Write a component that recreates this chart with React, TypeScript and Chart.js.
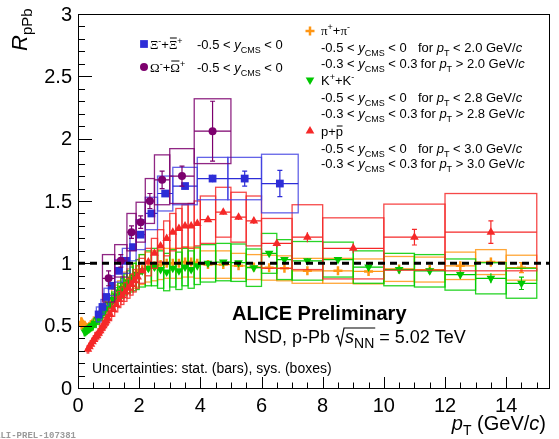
import React, { useEffect, useRef } from 'react';
import { Chart, registerables } from 'chart.js';
Chart.register(...registerables);

const SANS = '"Liberation Sans", Arial, Helvetica, sans-serif';
const SERIF = '"Liberation Serif", "DejaVu Serif", serif';
const MONO = '"Liberation Mono", "DejaVu Sans Mono", monospace';

// ---------------- axis ranges ----------------
const X_MIN = 0;
const X_MAX = 15.4;
const Y_MIN = 0;
const Y_MAX = 3;
const X_TICK_STEP = 2;
const Y_TICK_STEP = 0.5;
const REF_LINE = 1;

// ---------------- pi+ + pi- ----------------
const PI_EDGES = [0.10, 0.12, 0.14, 0.16, 0.18, 0.20, 0.25, 0.30, 0.35, 0.40, 0.45, 0.50, 0.60, 0.70, 0.80, 0.90, 1.00, 1.10, 1.20, 1.30, 1.40, 1.50, 1.60, 1.70, 1.80, 1.90, 2.00, 2.20, 2.40, 2.60, 2.80, 3.00, 3.20, 3.40, 3.60, 3.80, 4.00, 4.50, 5.00, 5.50, 6.00, 6.50, 7.00, 8.00, 9.00, 10.0, 11.0, 12.0, 13.0, 14.0, 15.0];
const PI_VAL = [0.53, 0.52, 0.51, 0.50, 0.50, 0.48, 0.48, 0.48, 0.49, 0.50, 0.51, 0.53, 0.56, 0.59, 0.62, 0.65, 0.68, 0.72, 0.75, 0.78, 0.81, 0.84, 0.86, 0.88, 0.90, 0.92, 0.95, 0.97, 0.98, 0.99, 1.00, 1.00, 1.00, 1.01, 1.01, 1.00, 0.99, 0.99, 0.98, 0.97, 0.965, 0.96, 0.94, 0.94, 0.935, 0.955, 0.95, 0.98, 1.01, 0.965];
const PI_STAT = [0.005, 0.005, 0.005, 0.005, 0.005, 0.004, 0.004, 0.004, 0.004, 0.004, 0.004, 0.004, 0.004, 0.004, 0.004, 0.004, 0.004, 0.004, 0.004, 0.004, 0.004, 0.004, 0.004, 0.004, 0.004, 0.004, 0.006, 0.006, 0.006, 0.006, 0.006, 0.006, 0.006, 0.006, 0.006, 0.006, 0.008, 0.009, 0.010, 0.011, 0.012, 0.013, 0.015, 0.015, 0.020, 0.020, 0.025, 0.030, 0.035, 0.040];
const PI_SYS = [0.035, 0.035, 0.035, 0.035, 0.035, 0.035, 0.035, 0.035, 0.035, 0.040, 0.040, 0.040, 0.045, 0.050, 0.055, 0.060, 0.065, 0.070, 0.075, 0.080, 0.085, 0.090, 0.095, 0.100, 0.100, 0.110, 0.12, 0.12, 0.12, 0.12, 0.12, 0.12, 0.12, 0.12, 0.12, 0.12, 0.11, 0.11, 0.10, 0.10, 0.10, 0.10, 0.10, 0.10, 0.10, 0.10, 0.10, 0.11, 0.10, 0.10];

// ---------------- K+ + K- ----------------
const KA_EDGES = [0.20, 0.25, 0.30, 0.35, 0.40, 0.45, 0.50, 0.60, 0.70, 0.80, 0.90, 1.00, 1.10, 1.20, 1.30, 1.40, 1.50, 1.60, 1.70, 1.80, 1.90, 2.00, 2.20, 2.40, 2.60, 2.80, 3.00, 3.20, 3.40, 3.60, 3.80, 4.00, 4.50, 5.00, 5.50, 6.00, 6.50, 7.00, 8.00, 9.00, 10.0, 11.0, 12.0, 13.0, 14.0, 15.0];
const KA_VAL = [0.45, 0.46, 0.47, 0.48, 0.49, 0.50, 0.52, 0.55, 0.58, 0.61, 0.64, 0.67, 0.71, 0.74, 0.77, 0.80, 0.83, 0.85, 0.87, 0.89, 0.91, 0.94, 0.96, 0.97, 0.95, 0.93, 0.96, 0.94, 0.97, 0.95, 0.98, 1.00, 1.01, 1.005, 0.965, 1.08, 1.03, 1.02, 1.03, 0.97, 0.95, 0.94, 0.91, 0.88, 0.84];
const KA_STAT = [0.004, 0.004, 0.004, 0.004, 0.004, 0.004, 0.005, 0.005, 0.005, 0.005, 0.005, 0.005, 0.005, 0.005, 0.005, 0.005, 0.005, 0.005, 0.005, 0.005, 0.005, 0.008, 0.008, 0.008, 0.008, 0.008, 0.008, 0.008, 0.008, 0.008, 0.008, 0.010, 0.012, 0.013, 0.014, 0.015, 0.017, 0.020, 0.020, 0.025, 0.030, 0.030, 0.035, 0.040, 0.050];
const KA_SYS = [0.03, 0.03, 0.03, 0.03, 0.03, 0.035, 0.035, 0.04, 0.04, 0.045, 0.05, 0.055, 0.06, 0.065, 0.07, 0.08, 0.085, 0.09, 0.10, 0.11, 0.12, 0.13, 0.14, 0.15, 0.15, 0.15, 0.15, 0.15, 0.15, 0.15, 0.15, 0.15, 0.15, 0.15, 0.15, 0.16, 0.16, 0.155, 0.14, 0.13, 0.13, 0.13, 0.125, 0.125, 0.12];

// ---------------- p + pbar ----------------
const PR_EDGES = [0.30, 0.35, 0.40, 0.45, 0.50, 0.55, 0.60, 0.65, 0.70, 0.75, 0.80, 0.85, 0.90, 0.95, 1.00, 1.10, 1.20, 1.30, 1.40, 1.50, 1.60, 1.70, 1.80, 1.90, 2.00, 2.20, 2.40, 2.60, 2.80, 3.00, 3.20, 3.40, 3.60, 3.80, 4.00, 4.50, 5.00, 5.50, 6.00, 7.00, 8.00, 10.0, 12.0, 15.0];
const PR_VAL = [0.31, 0.33, 0.35, 0.37, 0.39, 0.41, 0.42, 0.44, 0.46, 0.48, 0.50, 0.52, 0.54, 0.56, 0.59, 0.63, 0.67, 0.71, 0.74, 0.77, 0.80, 0.83, 0.86, 0.89, 0.94, 1.01, 1.08, 1.14, 1.20, 1.25, 1.28, 1.30, 1.30, 1.32, 1.35, 1.41, 1.37, 1.34, 1.16, 1.21, 1.12, 1.21, 1.25];
const PR_STAT = [0.008, 0.008, 0.008, 0.008, 0.008, 0.008, 0.008, 0.008, 0.008, 0.008, 0.008, 0.008, 0.008, 0.008, 0.008, 0.008, 0.008, 0.008, 0.008, 0.008, 0.008, 0.008, 0.008, 0.008, 0.010, 0.010, 0.012, 0.012, 0.013, 0.014, 0.015, 0.016, 0.017, 0.018, 0.018, 0.020, 0.022, 0.025, 0.030, 0.040, 0.040, 0.063, 0.090];
const PR_SYS = [0.03, 0.03, 0.03, 0.03, 0.03, 0.035, 0.035, 0.035, 0.04, 0.04, 0.04, 0.045, 0.045, 0.05, 0.05, 0.055, 0.06, 0.065, 0.07, 0.075, 0.08, 0.085, 0.09, 0.09, 0.10, 0.11, 0.12, 0.13, 0.14, 0.15, 0.16, 0.17, 0.18, 0.18, 0.19, 0.20, 0.20, 0.20, 0.20, 0.26, 0.245, 0.265, 0.31];

// ---------------- Xi- + Xi+bar ----------------
const XI_EDGES = [0.6, 0.75, 0.85, 1.0, 1.2, 1.45, 1.7, 1.9, 2.2, 2.6, 3.1, 3.9, 4.9, 6.0, 7.2];
const XI_VAL = [0.59, 0.65, 0.73, 0.82, 0.94, 1.02, 1.13, 1.23, 1.40, 1.56, 1.62, 1.68, 1.68, 1.64];
const XI_STAT = [0.015, 0.015, 0.015, 0.015, 0.015, 0.015, 0.015, 0.02, 0.02, 0.02, 0.025, 0.03, 0.06, 0.105];
const XI_SYS = [0.06, 0.06, 0.07, 0.08, 0.09, 0.10, 0.11, 0.12, 0.13, 0.14, 0.15, 0.17, 0.17, 0.235];

// ---------------- Omega- + Omega+bar ----------------
const OM_EDGES = [0.8, 1.2, 1.6, 1.9, 2.2, 2.5, 3.0, 3.8, 5.0];
const OM_VAL = [0.88, 1.02, 1.25, 1.33, 1.50, 1.67, 1.70, 2.06];
const OM_STAT = [0.06, 0.05, 0.05, 0.05, 0.06, 0.07, 0.08, 0.24];
const OM_SYS = [0.19, 0.13, 0.15, 0.16, 0.18, 0.20, 0.22, 0.26];

type Species = {
  label: string;
  edges: number[];
  val: number[];
  stat: number[];
  sys: number[];
  color: string;
  box: string;
  style: string;
  radius: number;
  rot: number;
  bw: number;
  order: number;
};

const SPECIES: Species[] = [
  { label: 'π⁺+π⁻', edges: PI_EDGES, val: PI_VAL, stat: PI_STAT, sys: PI_SYS, color: 'rgb(255,150,20)', box: 'rgba(255,150,20,0.85)', style: 'cross', radius: 4.5, rot: 0, bw: 2.5, order: 5 },
  { label: 'K⁺+K⁻', edges: KA_EDGES, val: KA_VAL, stat: KA_STAT, sys: KA_SYS, color: 'rgb(0,200,0)', box: 'rgba(0,205,0,0.85)', style: 'triangle', radius: 5, rot: 180, bw: 0, order: 4 },
  { label: 'p+p̄', edges: PR_EDGES, val: PR_VAL, stat: PR_STAT, sys: PR_SYS, color: 'rgb(245,40,40)', box: 'rgba(245,40,40,0.85)', style: 'triangle', radius: 5, rot: 0, bw: 0, order: 3 },
  { label: 'Ξ⁻+Ξ̄⁺', edges: XI_EDGES, val: XI_VAL, stat: XI_STAT, sys: XI_SYS, color: 'rgb(45,45,215)', box: 'rgba(60,60,225,0.8)', style: 'rect', radius: 5.5, rot: 0, bw: 0, order: 2 },
  { label: 'Ω⁻+Ω̄⁺', edges: OM_EDGES, val: OM_VAL, stat: OM_STAT, sys: OM_SYS, color: 'rgb(125,0,110)', box: 'rgba(125,0,110,0.85)', style: 'circle', radius: 4, rot: 0, bw: 0, order: 1 },
];

function centers(edges: number[]) {
  return edges.slice(0, -1).map((e, i) => (e + edges[i + 1]) / 2);
}

function fmt(v: number) {
  return String(Math.round(v * 100) / 100);
}

// ---------------- boxes + error bars per species ----------------
const errPlugin = {
  id: 'sysAndStat',
  beforeDatasetDraw(chart: any, args: any) {
    const ds: any = chart.data.datasets[args.index];
    const sp: Species | undefined = ds.species;
    if (!sp) return;
    const ctx: CanvasRenderingContext2D = chart.ctx;
    const xs = chart.scales.x;
    const ys = chart.scales.y;
    ctx.save();
    ctx.lineWidth = 1.3;
    ctx.strokeStyle = sp.box;
    for (let i = 0; i < sp.val.length; i++) {
      const x0 = xs.getPixelForValue(sp.edges[i]);
      const x1 = xs.getPixelForValue(sp.edges[i + 1]);
      const y0 = ys.getPixelForValue(sp.val[i] + sp.sys[i]);
      const y1 = ys.getPixelForValue(sp.val[i] - sp.sys[i]);
      ctx.strokeRect(x0, y0, x1 - x0, y1 - y0);
    }
    ctx.strokeStyle = sp.color;
    ctx.lineWidth = 1.2;
    for (let i = 0; i < sp.val.length; i++) {
      const x0 = xs.getPixelForValue(sp.edges[i]);
      const x1 = xs.getPixelForValue(sp.edges[i + 1]);
      const xc = xs.getPixelForValue((sp.edges[i] + sp.edges[i + 1]) / 2);
      const yc = ys.getPixelForValue(sp.val[i]);
      const yt = ys.getPixelForValue(sp.val[i] + sp.stat[i]);
      const yb = ys.getPixelForValue(sp.val[i] - sp.stat[i]);
      ctx.beginPath();
      ctx.moveTo(x0, yc);
      ctx.lineTo(x1, yc);
      ctx.moveTo(xc, yt);
      ctx.lineTo(xc, yb);
      if (yc - yt > sp.radius) {
        ctx.moveTo(xc - 2.5, yt);
        ctx.lineTo(xc + 2.5, yt);
        ctx.moveTo(xc - 2.5, yb);
        ctx.lineTo(xc + 2.5, yb);
      }
      ctx.stroke();
    }
    ctx.restore();
  },
};

// ---------------- ROOT-like frame, inner ticks and tick labels ----------------
const framePlugin = {
  id: 'rootFrame',
  afterDatasetsDraw(chart: any) {
    const ctx: CanvasRenderingContext2D = chart.ctx;
    const { left, right, top, bottom } = chart.chartArea;
    const xs = chart.scales.x;
    const ys = chart.scales.y;
    ctx.save();
    ctx.strokeStyle = '#000';
    ctx.lineWidth = 1;
    ctx.strokeRect(Math.round(left) + 0.5, Math.round(top) + 0.5, Math.round(right - left), Math.round(bottom - top));
    ctx.beginPath();
    for (let k = 0; X_MIN + k * 0.5 <= X_MAX + 1e-9; k++) {
      const v = X_MIN + k * 0.5;
      const px = Math.round(xs.getPixelForValue(v)) + 0.5;
      const len = k % 4 === 0 ? 11 : 5.5;
      ctx.moveTo(px, bottom);
      ctx.lineTo(px, bottom - len);
    }
    for (let k = 0; Y_MIN + k * 0.1 <= Y_MAX + 1e-9; k++) {
      const v = Y_MIN + k * 0.1;
      const py = Math.round(ys.getPixelForValue(v)) + 0.5;
      const len = k % 5 === 0 ? 14 : 7;
      ctx.moveTo(left, py);
      ctx.lineTo(left + len, py);
    }
    ctx.stroke();

    // tick labels from the scales' own ticks
    ctx.fillStyle = '#000';
    ctx.font = `20px ${SANS}`;
    ctx.textAlign = 'center';
    ctx.textBaseline = 'alphabetic';
    for (const t of xs.ticks) {
      ctx.fillText(fmt(t.value), xs.getPixelForValue(t.value), 412);
    }
    ctx.textAlign = 'right';
    ctx.textBaseline = 'middle';
    for (const t of ys.ticks) {
      ctx.fillText(fmt(t.value), left - 6, ys.getPixelForValue(t.value) + 1);
    }
    ctx.restore();
  },
};

// ---------------- text helpers ----------------
type Run = { t: string; font: string; dy?: number; ol?: number; ax?: number };
const F = (size: number, style = '') => `${style} ${size}px ${SANS}`;
const G = (size: number, style = '') => `${style} ${size}px ${SERIF}`;

function runsWidth(ctx: CanvasRenderingContext2D, runs: Run[]) {
  let w = 0;
  for (const r of runs) {
    ctx.font = r.font;
    w += ctx.measureText(r.t).width;
  }
  return w;
}

function drawRuns(ctx: CanvasRenderingContext2D, x: number, y: number, runs: Run[]) {
  let cx = x;
  for (const r of runs) {
    if (r.ax !== undefined) cx = Math.max(r.ax, cx + 3);
    ctx.font = r.font;
    const w = ctx.measureText(r.t).width;
    ctx.fillText(r.t, cx, y + (r.dy || 0));
    if (r.ol !== undefined) {
      ctx.beginPath();
      ctx.moveTo(cx + 1, y - r.ol);
      ctx.lineTo(cx + w - 0.5, y - r.ol);
      ctx.stroke();
    }
    cx += w;
  }
  return cx;
}

function yRange(lo: string, hi: string): Run[] {
  return [
    { t: `${lo} < `, font: F(13) },
    { t: 'y', font: F(13, 'italic') },
    { t: 'CMS', font: F(9), dy: 4 },
    { t: ` < ${hi}`, font: F(13) },
  ];
}

function ptCond(op: string, v: string): Run[] {
  return [
    { t: 'for ', font: F(13), ax: 418 },
    { t: 'p', font: F(13, 'italic') },
    { t: 'T', font: F(9), dy: 4 },
    { t: ` ${op} ${v} GeV/`, font: F(13) },
    { t: 'c', font: F(13, 'italic') },
  ];
}

function drawMarker(ctx: CanvasRenderingContext2D, sp: Species, x: number, y: number) {
  ctx.save();
  ctx.fillStyle = sp.color;
  ctx.strokeStyle = sp.color;
  ctx.beginPath();
  if (sp.style === 'cross') {
    ctx.lineWidth = sp.bw;
    ctx.moveTo(x - sp.radius, y);
    ctx.lineTo(x + sp.radius, y);
    ctx.moveTo(x, y - sp.radius);
    ctx.lineTo(x, y + sp.radius);
    ctx.stroke();
  } else if (sp.style === 'triangle') {
    const s = sp.rot === 180 ? -1 : 1;
    const r = sp.radius;
    ctx.moveTo(x, y - s * r);
    ctx.lineTo(x + r * 0.866, y + s * r * 0.5);
    ctx.lineTo(x - r * 0.866, y + s * r * 0.5);
    ctx.closePath();
    ctx.fill();
  } else if (sp.style === 'rect') {
    const h = sp.radius * Math.SQRT1_2;
    ctx.rect(x - h, y - h, 2 * h, 2 * h);
    ctx.fill();
  } else {
    ctx.arc(x, y, sp.radius, 0, Math.PI * 2);
    ctx.fill();
  }
  ctx.restore();
}

const textPlugin = {
  id: 'rootTexts',
  afterDraw(chart: any) {
    const ctx: CanvasRenderingContext2D = chart.ctx;
    ctx.save();
    ctx.fillStyle = '#000';
    ctx.strokeStyle = '#000';
    ctx.lineWidth = 1;
    ctx.textBaseline = 'alphabetic';
    ctx.textAlign = 'left';

    const [pi, ka, pr, xi, om] = SPECIES;

    // left legend
    drawMarker(ctx, xi, 144, 44);
    drawRuns(ctx, 150, 49, [
      { t: 'Ξ', font: G(13) },
      { t: '-', font: F(9), dy: -5 },
      { t: '+', font: F(13) },
      { t: 'Ξ', font: G(13), ol: 11 },
      { t: '+', font: F(9), dy: -5 },
      { ...yRange('-0.5', '0')[0], ax: 197 },
      ...yRange('-0.5', '0').slice(1),
    ]);
    drawMarker(ctx, om, 144, 67);
    drawRuns(ctx, 150, 72, [
      { t: 'Ω', font: G(13) },
      { t: '-', font: F(9), dy: -5 },
      { t: '+', font: F(13) },
      { t: 'Ω', font: G(13), ol: 11 },
      { t: '+', font: F(9), dy: -5 },
      { ...yRange('-0.5', '0')[0], ax: 197 },
      ...yRange('-0.5', '0').slice(1),
    ]);

    // right legend
    const LX = 321;
    drawMarker(ctx, pi, 310, 31);
    drawRuns(ctx, LX, 35, [
      { t: 'π', font: G(13) },
      { t: '+', font: F(9), dy: -5 },
      { t: '+', font: F(13) },
      { t: 'π', font: G(13) },
      { t: '-', font: F(9), dy: -5 },
    ]);
    drawRuns(ctx, LX, 52, [...yRange('-0.5', '0'), ...ptCond('<', '2.0')]);
    drawRuns(ctx, LX, 68, [...yRange('-0.3', '0.3'), ...ptCond('>', '2.0')]);

    drawMarker(ctx, ka, 310, 80);
    drawRuns(ctx, LX, 85, [
      { t: 'K', font: F(13) },
      { t: '+', font: F(9), dy: -5 },
      { t: '+K', font: F(13) },
      { t: '-', font: F(9), dy: -5 },
    ]);
    drawRuns(ctx, LX, 102, [...yRange('-0.5', '0'), ...ptCond('<', '2.8')]);
    drawRuns(ctx, LX, 118, [...yRange('-0.3', '0.3'), ...ptCond('>', '2.8')]);

    drawMarker(ctx, pr, 310, 131);
    drawRuns(ctx, LX, 136, [
      { t: 'p+', font: F(13) },
      { t: 'p', font: F(13), ol: 10 },
    ]);
    drawRuns(ctx, LX, 153, [...yRange('-0.5', '0'), ...ptCond('<', '3.0')]);
    drawRuns(ctx, LX, 168, [...yRange('-0.3', '0.3'), ...ptCond('>', '3.0')]);

    // ALICE Preliminary
    ctx.font = F(20, 'bold');
    ctx.fillText('ALICE Preliminary', 232, 320);

    // NSD, p-Pb sqrt(s_NN) = 5.02 TeV
    const y2 = 343;
    const cx = drawRuns(ctx, 244, y2, [{ t: 'NSD, p-Pb ', font: F(18) }]);
    const rootStart = cx;
    const sx = cx + 10;
    const sEnd = drawRuns(ctx, sx, y2, [
      { t: 's', font: F(18, 'italic') },
      { t: 'NN', font: F(14), dy: 5 },
    ]);
    ctx.lineWidth = 1.2;
    ctx.beginPath();
    ctx.moveTo(rootStart + 0.5, y2 - 6);
    ctx.lineTo(rootStart + 2.5, y2 - 7.5);
    ctx.lineTo(rootStart + 5.5, y2 + 2);
    ctx.lineTo(rootStart + 9, y2 - 15);
    ctx.lineTo(sEnd + 1, y2 - 15);
    ctx.stroke();
    drawRuns(ctx, sEnd, y2, [{ t: ' = 5.02 TeV', font: F(18) }]);

    // uncertainties note
    ctx.font = F(14);
    ctx.fillText('Uncertainties: stat. (bars), sys. (boxes)', 92, 373);

    // x-axis title (right aligned to the axis end)
    const xTitle: Run[] = [
      { t: 'p', font: F(20, 'italic') },
      { t: 'T', font: F(14), dy: 5 },
      { t: ' (GeV/', font: F(20) },
      { t: 'c', font: F(20, 'italic') },
      { t: ')', font: F(20) },
    ];
    const xw = runsWidth(ctx, xTitle);
    drawRuns(ctx, chart.chartArea.right - 3 - xw, 430, xTitle);

    // y-axis title (rotated, top aligned)
    ctx.save();
    ctx.translate(27, 51);
    ctx.rotate(-Math.PI / 2);
    drawRuns(ctx, 0, 0, [
      { t: 'R', font: F(22, 'italic') },
      { t: 'pPb', font: F(15), dy: 5 },
    ]);
    ctx.restore();

    // figure id, cut at the left page edge as in the reference
    ctx.fillStyle = '#9a9a9a';
    ctx.font = `bold 9px ${MONO}`;
    ctx.textAlign = 'right';
    ctx.fillText('ALI-PREL-107381', 76, 438);

    ctx.restore();
  },
};

export default function App() {
  const ref = useRef<HTMLCanvasElement>(null);

  useEffect(() => {
    if (!ref.current) return;
    const datasets: any[] = [
      {
        type: 'line',
        label: 'ref',
        data: [
          { x: X_MIN, y: REF_LINE },
          { x: X_MAX, y: REF_LINE },
        ],
        borderColor: '#000',
        borderWidth: 3,
        borderDash: [7, 5],
        pointRadius: 0,
        fill: false,
        order: 0,
      },
      ...SPECIES.map((sp) => ({
        type: 'scatter',
        label: sp.label,
        species: sp,
        data: centers(sp.edges).map((x, i) => ({ x, y: sp.val[i] })),
        showLine: false,
        pointStyle: sp.style,
        pointRadius: sp.radius,
        pointRotation: sp.rot,
        pointBackgroundColor: sp.color,
        pointBorderColor: sp.color,
        pointBorderWidth: sp.bw,
        order: sp.order,
      })),
    ];

    const chart = new Chart(ref.current, {
      type: 'scatter',
      data: { datasets },
      options: {
        animation: false,
        responsive: false,
        events: [],
        layout: { padding: { left: 78, right: 10, top: 14, bottom: 51 } },
        plugins: { legend: { display: false }, tooltip: { enabled: false } },
        scales: {
          x: {
            type: 'linear',
            min: X_MIN,
            max: X_MAX,
            grid: { display: false, drawTicks: false },
            border: { display: false },
            ticks: {
              display: false,
              stepSize: X_TICK_STEP,
              includeBounds: false,
              autoSkip: false,
              maxRotation: 0,
            },
            afterFit: (s: any) => {
              s.height = 0;
            },
          },
          y: {
            type: 'linear',
            min: Y_MIN,
            max: Y_MAX,
            grid: { display: false, drawTicks: false },
            border: { display: false },
            ticks: {
              display: false,
              stepSize: Y_TICK_STEP,
              includeBounds: false,
              autoSkip: false,
            },
            afterFit: (s: any) => {
              s.width = 0;
            },
          },
        },
      } as any,
      plugins: [errPlugin, framePlugin, textPlugin],
    });
    return () => chart.destroy();
  }, []);

  return (
    <div style={{ position: 'absolute', left: 0, top: 0, width: 559, height: 439, background: '#fff' }}>
      <canvas ref={ref} width={559} height={439} style={{ display: 'block', width: 559, height: 439 }} />
    </div>
  );
}
